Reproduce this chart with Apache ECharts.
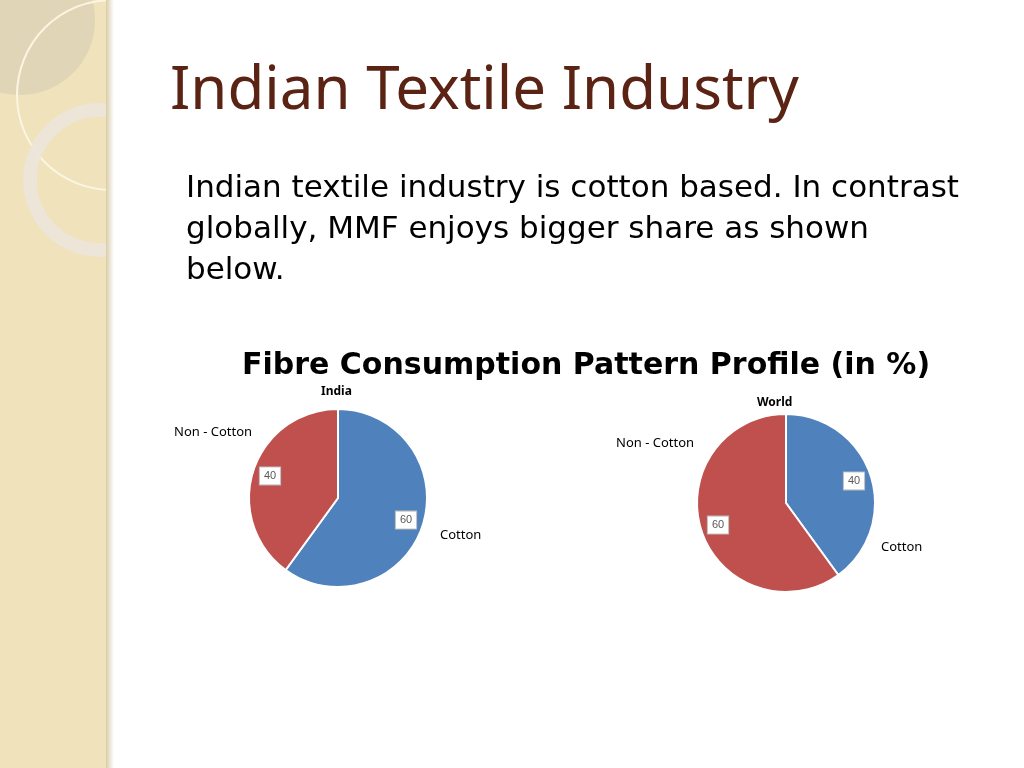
<!DOCTYPE html>
<html><head><meta charset="utf-8">
<script src="https://cdn.jsdelivr.net/npm/echarts@6/dist/echarts.min.js"></script>
<style>
html,body{margin:0;padding:0;background:#fff;}
#main{width:1024px;height:768px;}
</style></head>
<body><div id="main"></div>
<script>
var categories = ['Cotton', 'Non - Cotton'];
var indiaValues = [60, 40];
var worldValues = [40, 60];
var pieTitles = ['India', 'World'];
var colors = ['#4f81bd', '#c0504d'];

var myChart = echarts.init(document.getElementById('main'));

function pieSeries(values, center) {
  return {
    type: 'pie',
    z: 5,
    center: center,
    radius: 89,
    startAngle: 90,
    clockwise: true,
    silent: true,
    itemStyle: { borderColor: '#fff', borderWidth: 2 },
    label: { show: false },
    labelLine: { show: false },
    data: categories.map(function (c, i) {
      return { name: c, value: values[i], itemStyle: { color: colors[i] } };
    })
  };
}

// transparent ring used only to place value labels further out
function labelRing(values, center) {
  return {
    type: 'pie',
    z: 6,
    center: center,
    radius: [48, 89],
    startAngle: 90,
    clockwise: true,
    silent: true,
    itemStyle: { color: 'rgba(0,0,0,0)' },
    label: {
      position: 'inside',
      formatter: '{c}',
      fontFamily: 'Liberation Sans',
      fontSize: 11,
      color: '#595959',
      backgroundColor: '#fff',
      borderColor: '#bbb',
      borderWidth: 1,
      padding: [3, 4]
    },
    labelLine: { show: false },
    data: categories.map(function (c, i) {
      return { name: c, value: values[i] };
    })
  };
}

var txt = function (x, y, s, size, extra) {
  return { type: 'text', left: x, top: y, z: 10, style: Object.assign({ text: s, fontFamily: 'Noto Sans', fontSize: size, fill: '#000' }, extra || {}) };
};

var option = {
  animation: false,
  title: [
    { text: pieTitles[0], left: 309, top: 385, z: 20, textStyle: { fontFamily: 'Noto Sans', fontSize: 12, fontWeight: 'bold', color: '#000' }, backgroundColor: '#fff', padding: [1, 12] },
    { text: pieTitles[1], left: 752, top: 392, z: 20, textStyle: { fontFamily: 'Noto Sans', fontSize: 12, fontWeight: 'bold', color: '#000' } }
  ],
  graphic: [
    { type: 'rect', shape: { x: 0, y: 0, width: 112, height: 768 }, style: { fill: '#f0e2bb' }, z: 0 },
    { type: 'circle', shape: { cx: 20, cy: 20, r: 75 }, style: { fill: 'rgba(210,200,180,0.5)' }, z: 1 },
    { type: 'circle', shape: { cx: 112, cy: 95, r: 95 }, style: { fill: 'none', stroke: '#fbf5e2', lineWidth: 2 }, z: 2 },
    { type: 'circle', shape: { cx: 100, cy: 180, r: 70 }, style: { fill: 'none', stroke: 'rgba(235,230,220,0.9)', lineWidth: 14 }, z: 2 },
    { type: 'rect', shape: { x: 112, y: 0, width: 912, height: 768 }, style: { fill: '#fff' }, z: 3 },
    { type: 'rect', shape: { x: 106, y: 0, width: 8, height: 768 }, style: { fill: new echarts.graphic.LinearGradient(0, 0, 1, 0, [{ offset: 0, color: '#d8ccaa' }, { offset: 1, color: '#ffffff' }]) }, z: 4 },
    txt(170, 62, 'Indian Textile Industry', 60, { fill: '#5a2314' }),
    txt(186, 168, 'Indian textile industry is cotton based. In contrast\nglobally, MMF enjoys bigger share as shown\nbelow.', 31, { lineHeight: 41, fontFamily: 'DejaVu Sans' }),
    txt(242, 351, 'Fibre Consumption Pattern Profile (in %)', 30, { fontWeight: 'bold', fontFamily: 'DejaVu Sans' }),
    txt(174, 426, categories[1], 13),
    txt(440, 529, categories[0], 13),
    txt(616, 437, categories[1], 13),
    txt(881, 541, categories[0], 13)
  ],
  series: [
    pieSeries(indiaValues, [338, 498]), labelRing(indiaValues, [338, 498]),
    pieSeries(worldValues, [786, 503]), labelRing(worldValues, [786, 503])
  ]
};
myChart.setOption(option);
</script></body></html>
